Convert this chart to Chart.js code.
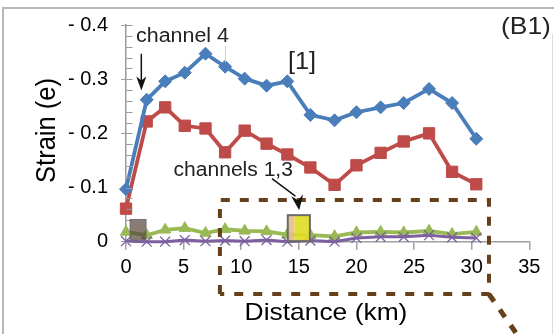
<!DOCTYPE html>
<html>
<head>
<meta charset="utf-8">
<script src="https://cdn.jsdelivr.net/npm/chart.js@4/dist/chart.umd.min.js"></script>
<style>
html,body{margin:0;padding:0;background:#fff;}
#wrap{width:554px;height:334px;position:relative;}
</style>
</head>
<body>
<div id="wrap"><canvas id="c" width="554" height="334"></canvas></div>
<script>
// ---- data ----
const distanceKm = [0, 1.8, 3.4, 5.1, 6.9, 8.6, 10.3, 12.2, 14.0, 16.0, 18.1, 20.0, 22.1, 24.1, 26.3, 28.3, 30.4];
const channel4 = [-0.097, -0.262, -0.296, -0.312, -0.347, -0.323, -0.301, -0.288, -0.296, -0.234, -0.224, -0.239, -0.248, -0.256, -0.282, -0.256, -0.190];
const channel2 = [-0.061, -0.222, -0.248, -0.214, -0.209, -0.165, -0.205, -0.181, -0.161, -0.137, -0.105, -0.141, -0.164, -0.185, -0.200, -0.129, -0.106];
const channel1 = [-0.018, -0.012, -0.022, -0.025, -0.016, -0.023, -0.020, -0.019, -0.013, -0.012, -0.010, -0.017, -0.018, -0.017, -0.020, -0.014, -0.018];
const channel3 = [-0.001, 0.000, 0.000, -0.003, -0.001, -0.002, -0.001, -0.003, 0.000, -0.002, 0.000, -0.007, -0.009, -0.009, -0.012, -0.008, -0.007];
const xTicks = [0, 5, 10, 15, 20, 25, 30, 35];
const yTicks = [-0.4, -0.3, -0.2, -0.1, 0];

const FONT = '"Liberation Sans", Arial, sans-serif';
const pts = arr => arr.map((v, i) => ({x: distanceKm[i], y: v}));

function sText(ctx, text, x, y, size, align, sx, color) {
  ctx.save();
  ctx.translate(x, y);
  ctx.scale(sx, 1);
  ctx.font = size + 'px ' + FONT;
  ctx.textAlign = align;
  ctx.textBaseline = 'alphabetic';
  ctx.fillStyle = color;
  ctx.fillText(text, 0, 0);
  ctx.restore();
}

const decor = {
  id: 'decor',
  beforeDraw(chart) {
    const ctx = chart.ctx;
    ctx.save();
    ctx.fillStyle = '#fff';
    ctx.fillRect(0, 0, chart.width, chart.height);
    ctx.strokeStyle = '#b8b8b8';
    ctx.lineWidth = 2;
    ctx.beginPath();
    ctx.moveTo(3, 334); ctx.lineTo(3, 8); ctx.lineTo(554, 8);
    ctx.stroke();
    ctx.strokeStyle = '#dcdcdc';
    ctx.lineWidth = 1;
    ctx.beginPath();
    ctx.moveTo(552.5, 34); ctx.lineTo(552.5, 334);
    ctx.stroke();
    ctx.restore();
  },
  afterDraw(chart) {
    const ctx = chart.ctx;
    const xs = chart.scales.x, ys = chart.scales.y;
    const X = v => xs.getPixelForValue(v), Y = v => ys.getPixelForValue(v);
    ctx.save();
    // minor ticks on the y axis (right side)
    ctx.strokeStyle = '#9a9a9a';
    ctx.lineWidth = 1;
    const ax = Math.round(xs.left) + 0.5;
    for (let i = 0; i <= 20; i++) {
      const py = Math.round(Y(-i * 0.02)) + 0.5;
      ctx.beginPath(); ctx.moveTo(ax, py); ctx.lineTo(ax + 6, py); ctx.stroke();
    }
    // grey box near start
    ctx.fillStyle = 'rgba(85,68,58,0.7)';
    ctx.strokeStyle = 'rgba(110,110,110,0.9)';
    ctx.lineWidth = 1;
    let l = X(0.35), r = X(1.74), t = Y(-0.041), b = Y(-0.003);
    ctx.fillRect(l, t, r - l, b - t);
    ctx.strokeRect(l, t, r - l, b - t);
    // yellow box near 15 km
    l = X(14.04); r = X(15.96); t = Y(-0.049); b = Y(-0.001);
    ctx.fillStyle = 'rgba(232,190,140,0.9)';
    ctx.fillRect(l, t, (r - l) * 0.3, b - t);
    ctx.fillStyle = 'rgba(225,220,40,0.92)';
    ctx.fillRect(l + (r - l) * 0.3, t, (r - l) * 0.7, b - t);
    ctx.strokeStyle = '#6a6a6a';
    ctx.lineWidth = 2;
    ctx.strokeRect(l, t, r - l, b - t);
    // brown dashed box
    ctx.strokeStyle = '#66401a';
    ctx.lineWidth = 4;
    ctx.setLineDash([9, 10]);
    l = X(8.15); r = X(31.5); t = Y(-0.077); b = Y(0.0967);
    ctx.beginPath();
    ctx.moveTo(l, b); ctx.lineTo(l, t); ctx.lineTo(r, t); ctx.lineTo(r, b); ctx.lineTo(l, b);
    ctx.stroke();
    ctx.lineWidth = 5;
    ctx.beginPath();
    ctx.moveTo(r, b); ctx.lineTo(r + 32, b + 46);
    ctx.stroke();
    ctx.setLineDash([]);
    // thin yellow mark
    ctx.strokeStyle = '#f2e200';
    ctx.lineWidth = 1;
    ctx.beginPath(); ctx.moveTo(X(8.64), Y(-0.3616)); ctx.lineTo(X(8.64), Y(-0.331)); ctx.stroke();
    // arrow channel 4
    ctx.strokeStyle = '#111'; ctx.fillStyle = '#111'; ctx.lineWidth = 1.5;
    let ax4 = X(1.33);
    ctx.beginPath(); ctx.moveTo(ax4, Y(-0.347)); ctx.lineTo(ax4, Y(-0.29)); ctx.stroke();
    let tip = Y(-0.279);
    ctx.beginPath(); ctx.moveTo(ax4, tip); ctx.lineTo(ax4 - 5, tip - 14); ctx.lineTo(ax4, tip - 10); ctx.lineTo(ax4 + 5, tip - 14); ctx.closePath(); ctx.fill();
    // arrow channels 1,3
    const sx0 = X(12.67), sy0 = Y(-0.1165), sx1 = X(14.7), sy1 = Y(-0.084), tx = X(15.03), ty = Y(-0.058);
    ctx.beginPath(); ctx.moveTo(sx0, sy0); ctx.lineTo(sx1, sy1); ctx.stroke();
    ctx.beginPath(); ctx.moveTo(tx, ty); ctx.lineTo(tx - 8, ty - 14); ctx.lineTo(tx - 1, ty - 10); ctx.lineTo(tx + 4, ty - 16); ctx.closePath(); ctx.fill();
    // texts
    sText(ctx, 'channel 4', 136, 42, 19.5, 'left', 1.1, '#222');
    sText(ctx, '[1]', 288, 68.5, 23, 'left', 1.1, '#222');
    sText(ctx, '(B1)', 501, 33.5, 24, 'left', 1.1, '#222');
    sText(ctx, 'channels 1,3', 173.5, 176, 19.5, 'left', 1.08, '#222');
    sText(ctx, 'Distance (km)', 326, 319.5, 24, 'center', 1.1, '#000');
    ctx.save();
    ctx.translate(55, 130.5);
    ctx.scale(1.1, 1);
    ctx.rotate(-Math.PI / 2);
    ctx.font = '25.5px ' + FONT;
    ctx.textAlign = 'center';
    ctx.fillStyle = '#000';
    ctx.fillText('Strain (e)', 0, 0);
    ctx.restore();
    ctx.restore();
  }
};

function ds(label, arr, color, style, radius, width) {
  return {
    label, data: pts(arr),
    borderColor: color, backgroundColor: color,
    pointBackgroundColor: color, pointBorderColor: color,
    pointStyle: style, pointRadius: radius, pointHoverRadius: radius,
    pointBorderWidth: style === 'crossRot' ? 1.3 : 1,
    borderWidth: width, tension: 0, clip: false
  };
}

new Chart(document.getElementById('c'), {
  type: 'line',
  data: {
    datasets: [
      ds('channel 4', channel4, '#4a7ebb', 'rectRot', 6.5, 3.8),
      ds('channel 2', channel2, '#be4b48', 'rect', 8, 3.8),
      ds('channel 3', channel3, '#7d60a0', 'crossRot', 7, 3),
      ds('channel 1', channel1, '#98b954', 'triangle', 6.5, 3.8)
    ]
  },
  options: {
    responsive: false,
    animation: false,
    devicePixelRatio: 1,
    layout: { padding: { left: 0, top: 24, right: 24.7, bottom: 0 } },
    plugins: { legend: { display: false }, tooltip: { enabled: false } },
    scales: {
      x: {
        type: 'linear', min: 0, max: 35,
        afterFit: s => { s.height = 334 - 241.7; },
        afterBuildTicks: s => { s.ticks = xTicks.map(v => ({value: v})); },
        ticks: { font: { family: FONT, size: 20 }, color: '#000', padding: 6, maxRotation: 0 },
        grid: { drawOnChartArea: false, drawTicks: true, tickLength: 8, color: '#a0a0a0', lineWidth: 1.5 },
        border: { display: true, color: '#a0a0a0', width: 1.5 }
      },
      y: {
        type: 'linear', min: -0.4, max: 0, reverse: true,
        afterFit: s => { s.width = 126; },
        afterBuildTicks: s => { s.ticks = yTicks.map(v => ({value: v})); },
        ticks: {
          font: { family: FONT, size: 20 }, color: '#000', padding: 13,
          callback: v => (Math.abs(v) < 1e-9 ? '0' : '- ' + Math.abs(v).toFixed(1))
        },
        grid: { drawOnChartArea: false, drawTicks: true, tickLength: 5, color: '#9a9a9a', lineWidth: 1 },
        border: { display: true, color: '#9a9a9a', width: 1.5 }
      }
    }
  },
  plugins: [decor]
});
</script>
</body>
</html>
